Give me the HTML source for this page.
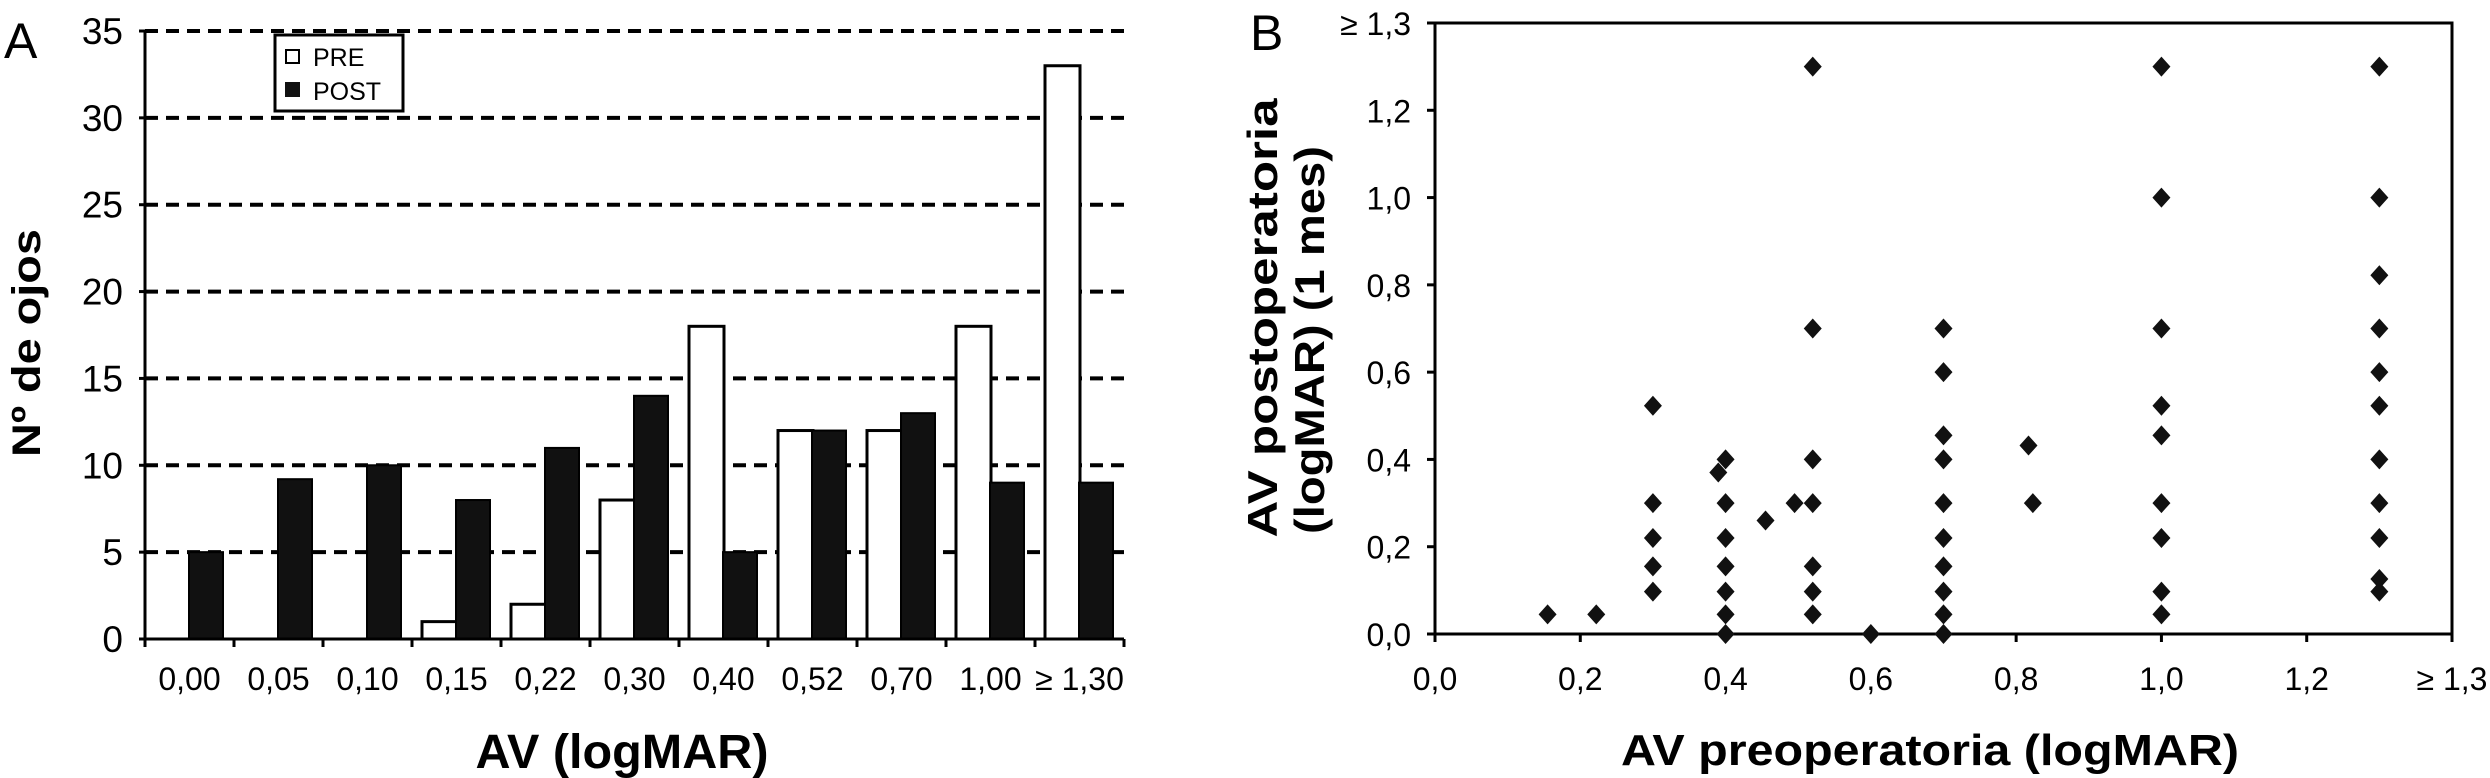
<!DOCTYPE html>
<html><head><meta charset="utf-8"><style>
html,body{margin:0;padding:0;background:#fff;}
svg{display:block;font-family:"Liberation Sans",sans-serif;}
</style></head><body>
<svg id="svg" width="2490" height="778" viewBox="0 0 2490 778" xmlns="http://www.w3.org/2000/svg">
<g id="chartA"></g>
<g id="chartB"></g>
</svg>
<script>
const catsA = ["0,00","0,05","0,10","0,15","0,22","0,30","0,40","0,52","0,70","1,00","≥ 1,30"];
const preVals = [0,0,0,1,2,8,18,12,12,18,33];
const postVals = [5,9.2,10,8,11,14,5,12,13,9,9];
const yTicksA = [0,5,10,15,20,25,30,35];

const xTicksB = [0,0.2,0.4,0.6,0.8,1.0,1.2,1.4];
const xTickLabelsB = ["0,0","0,2","0,4","0,6","0,8","1,0","1,2","≥ 1,3"];
const yTicksB = [0,0.2,0.4,0.6,0.8,1.0,1.2,1.4];
const yTickLabelsB = ["0,0","0,2","0,4","0,6","0,8","1,0","1,2","≥ 1,3"];
const preB = [0.155,0.222,0.3,0.3,0.3,0.3,0.3,0.4,0.39,0.4,0.4,0.4,0.4,0.4,0.4,0.455,0.495,0.52,0.52,0.52,0.52,0.52,0.52,0.52,0.6,0.7,0.7,0.7,0.7,0.7,0.7,0.7,0.7,0.7,0.7,0.817,0.823,1.0,1.0,1.0,1.0,1.0,1.0,1.0,1.0,1.0,1.3,1.3,1.3,1.3,1.3,1.3,1.3,1.3,1.3,1.3,1.3];
const postB = [0.045,0.045,0.523,0.3,0.22,0.155,0.097,0.4,0.37,0.3,0.22,0.155,0.097,0.045,0.0,0.26,0.3,1.3,0.7,0.4,0.3,0.155,0.097,0.045,0.0,0.7,0.6,0.455,0.4,0.3,0.22,0.155,0.097,0.045,0.0,0.432,0.3,1.3,1.0,0.7,0.523,0.455,0.3,0.22,0.097,0.045,1.3,1.0,0.822,0.7,0.6,0.523,0.4,0.3,0.22,0.126,0.097];

const NS="http://www.w3.org/2000/svg";
function mk(parent,tag,attrs,text){const e=document.createElementNS(NS,tag);for(const k in attrs)e.setAttribute(k,attrs[k]);if(text!==undefined)e.textContent=text;parent.appendChild(e);return e;}

// ---- Chart A ----
const A=document.getElementById('chartA');
const ax0=145, ax1=1124, ayTop=31, ay0=639, ymaxA=35;
const catW=(ax1-ax0)/catsA.length;
const yA=v=>ay0-(v/ymaxA)*(ay0-ayTop);
const xA=i=>ax0+i*catW;
yTicksA.forEach(t=>{
  if(t>0){const g=mk(A,'line',{x1:ax0,x2:ax1,y1:yA(t),y2:yA(t),stroke:'#000','stroke-width':4,'stroke-dasharray':'13 8'});
  
  }
  const tl=mk(A,'text',{x:123,y:yA(t)+13,'text-anchor':'end','font-size':37},String(t));
  
  
  mk(A,'line',{x1:ax0-6,x2:ax0,y1:yA(t),y2:yA(t),stroke:'#000','stroke-width':3});
});
catsA.forEach((c,i)=>{
  const x=xA(i);
  if(preVals[i]>0){const r=mk(A,'rect',{x:x+10,y:yA(preVals[i]),width:35,height:ay0-yA(preVals[i]),fill:'#fff',stroke:'#000','stroke-width':3});
  
  }
  const p=mk(A,'rect',{x:x+44,y:yA(postVals[i]),width:34,height:ay0-yA(postVals[i]),fill:'#111',stroke:'#000','stroke-width':2});
  
  
  const tl=mk(A,'text',{x:x+catW/2,y:690,'text-anchor':'middle','font-size':32},c);
  
  
});
for(let i=0;i<=catsA.length;i++){mk(A,'line',{x1:xA(i),x2:xA(i),y1:ay0,y2:ay0+8,stroke:'#000','stroke-width':3});}
mk(A,'line',{x1:ax0,x2:ax0,y1:ayTop,y2:ay0+1,stroke:'#000','stroke-width':3});
mk(A,'line',{x1:ax0,x2:ax1,y1:ay0,y2:ay0,stroke:'#000','stroke-width':3});
// legend
const lg=mk(A,'g',{});


mk(lg,'rect',{x:275,y:35,width:128,height:76,fill:'#fff',stroke:'#000','stroke-width':3});
mk(lg,'rect',{x:286,y:50,width:13,height:13,fill:'#fff',stroke:'#000','stroke-width':2});
mk(lg,'text',{x:313,y:66,'font-size':25},'PRE');
mk(lg,'rect',{x:285,y:82,width:15,height:15,fill:'#111'});
mk(lg,'text',{x:313,y:100,'font-size':25},'POST');
let t=mk(A,'text',{x:4,y:58,'font-size':50},'A');


t=mk(A,'text',{x:622,y:768,'text-anchor':'middle','font-size':48,'font-weight':'bold',textLength:293,lengthAdjust:'spacingAndGlyphs'},'AV (logMAR)');


t=mk(A,'text',{x:0,y:0,'text-anchor':'middle','font-size':40,'font-weight':'bold',textLength:228,lengthAdjust:'spacingAndGlyphs',transform:'translate(40,343) rotate(-90)'},'Nº de ojos');



// ---- Chart B ----
const B=document.getElementById('chartB');
const bx0=1435,bx1=2452,byTop=23,by0=634,bmax=1.4;
const xB=v=>bx0+(v/bmax)*(bx1-bx0);
const yB=v=>by0-(v/bmax)*(by0-byTop);
const frame=mk(B,'rect',{x:bx0,y:byTop,width:bx1-bx0,height:by0-byTop,fill:'none',stroke:'#000','stroke-width':3});


xTicksB.forEach((v,i)=>{
  mk(B,'line',{x1:xB(v),x2:xB(v),y1:by0,y2:by0+8,stroke:'#000','stroke-width':3});
  const tl=mk(B,'text',{x:xB(v),y:690,'text-anchor':'middle','font-size':32},xTickLabelsB[i]);
  
  
});
yTicksB.forEach((v,i)=>{
  mk(B,'line',{x1:bx0-8,x2:bx0,y1:yB(v),y2:yB(v),stroke:'#000','stroke-width':3});
  const tl=mk(B,'text',{x:1411,y:yB(v)+12,'text-anchor':'end','font-size':32},yTickLabelsB[i]);
  
  
});
preB.forEach((xv,i)=>{
  const cx=xB(xv),cy=yB(postB[i]);
  const d=mk(B,'polygon',{points:`${cx},${cy-10} ${cx+9},${cy} ${cx},${cy+10} ${cx-9},${cy}`,fill:'#111'});
  
  
});
t=mk(B,'text',{x:1250,y:50,'font-size':50},'B');


t=mk(B,'text',{x:1930,y:765,'text-anchor':'middle','font-size':44,'font-weight':'bold',textLength:618,lengthAdjust:'spacingAndGlyphs'},'AV preoperatoria (logMAR)');


t=mk(B,'text',{x:0,y:0,'text-anchor':'middle','font-size':42,'font-weight':'bold',textLength:439,lengthAdjust:'spacingAndGlyphs',transform:'translate(1277,318) rotate(-90)'},'AV postoperatoria');


t=mk(B,'text',{x:0,y:0,'text-anchor':'middle','font-size':42,'font-weight':'bold',textLength:388,lengthAdjust:'spacingAndGlyphs',transform:'translate(1324,340) rotate(-90)'},'(logMAR) (1 mes)');


</script>
</body></html>
